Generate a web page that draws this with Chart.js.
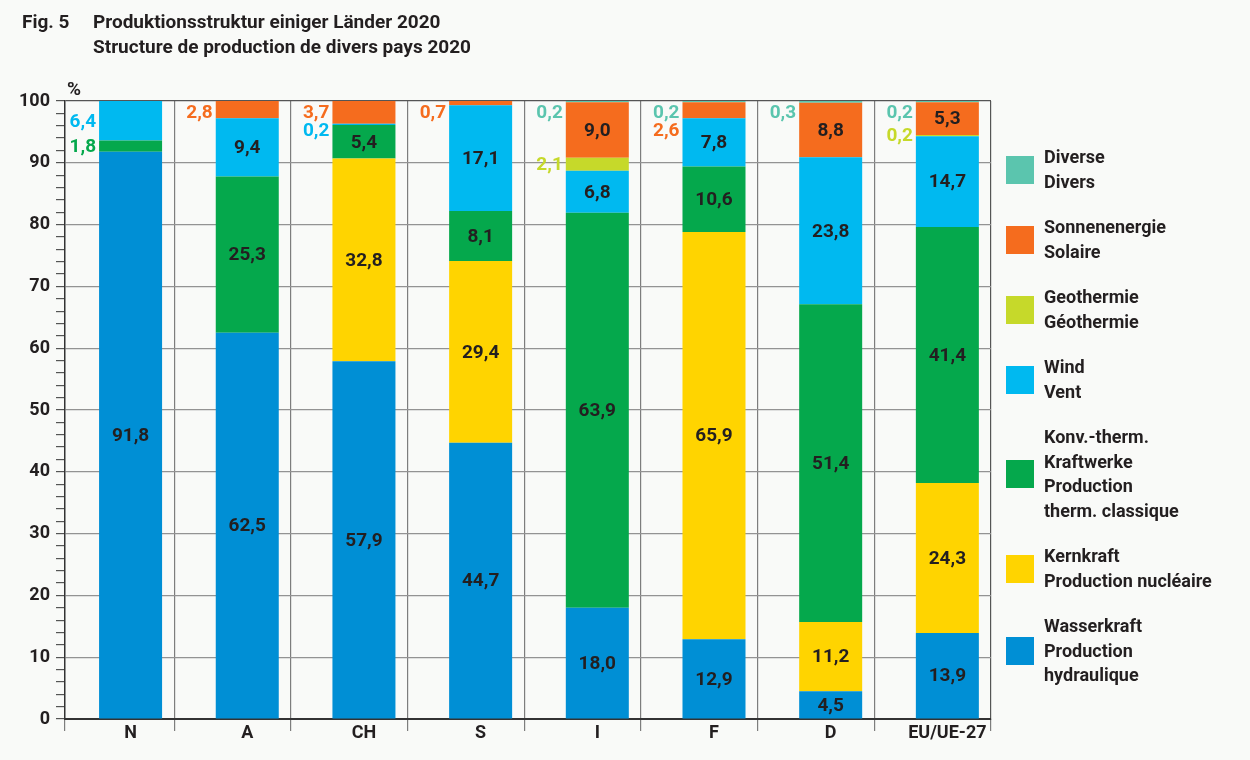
<!DOCTYPE html>
<html>
<head>
<meta charset="utf-8">
<script src="https://cdn.jsdelivr.net/npm/chart.js@4.4.1/dist/chart.umd.min.js"></script>
<style>
  body { margin: 0; background: #f9faf8; font-family: Roboto, sans-serif; color: #231f20; }
  #wrap { position: relative; width: 1250px; height: 760px; }
  #chartBox { position: absolute; left: 0; top: 0; width: 1250px; height: 760px; }
  #title { position: absolute; left: 22px; top: 9px; display: flex; font-weight: 700; font-size: 19px; line-height: 25px; }
  #title .fig { width: 71px; }
  #unit { position: absolute; left: 67px; top: 79px; font-weight: 700; font-size: 19px; line-height: 19px; }
  #legend { position: absolute; left: 1006px; top: 145px; }
  .item { display: flex; align-items: center; margin-bottom: 21px; }
  .swatch { width: 28px; height: 28px; margin-right: 10px; flex: none; }
  .txt { font-weight: 700; font-size: 18px; line-height: 24.5px; }
</style>
</head>
<body>
<div id="wrap">
  <div id="chartBox"><canvas id="chart"></canvas></div>
  <div id="title">
    <div class="fig">Fig. 5</div>
    <div>Produktionsstruktur einiger Länder 2020<br>Structure de production de divers pays 2020</div>
  </div>
  <div id="unit">%</div>
  <div id="legend"></div>
</div>
<script>
const categories = ['N', 'A', 'CH', 'S', 'I', 'F', 'D', 'EU/UE-27'];

// Anteile in %, von unten nach oben gestapelt
const wasserkraft = [91.8, 62.5, 57.9, 44.7, 18.0, 12.9, 4.5, 13.9];
const kernkraft   = [0, 0, 32.8, 29.4, 0, 65.9, 11.2, 24.3];
const konvTherm   = [1.8, 25.3, 5.4, 8.1, 63.9, 10.6, 51.4, 41.4];
const wind        = [6.4, 9.4, 0.2, 17.1, 6.8, 7.8, 23.8, 14.7];
const geothermie  = [0, 0, 0, 0, 2.1, 0, 0, 0.2];
const sonne       = [0, 2.8, 3.7, 0.7, 9.0, 2.6, 8.8, 5.3];
const diverse     = [0, 0, 0, 0, 0.2, 0.2, 0.3, 0.2];

const yTickLabels = [0, 10, 20, 30, 40, 50, 60, 70, 80, 90, 100];

const series = [
    { key: 'Wasser', label: ['Wasserkraft', 'Production', 'hydraulique'], data: wasserkraft, color: '#008fd5' },
    { key: 'Kern', label: ['Kernkraft', 'Production nucléaire'], data: kernkraft, color: '#ffd400' },
    { key: 'Konv', label: ['Konv.-therm.', 'Kraftwerke', 'Production', 'therm. classique'], data: konvTherm, color: '#05a84c' },
    { key: 'Wind', label: ['Wind', 'Vent'], data: wind, color: '#00b9f0' },
    { key: 'Geo', label: ['Geothermie', 'Géothermie'], data: geothermie, color: '#c6d92a' },
    { key: 'Sonne', label: ['Sonnenenergie', 'Solaire'], data: sonne, color: '#f56c1e' },
    { key: 'Diverse', label: ['Diverse', 'Divers'], data: diverse, color: '#5bc5ae' }
];

// labels that sit left of the bar even though the segment is big enough
const outsideLabels = ['N/Wind'];

// bars sit right of centre inside each column
const X_MIN = -0.562;
const GAP = 0.374;
const X_MAX = categories.length - 1 + GAP;
const gridLines = categories.map((c, i) => i + GAP);
const axisTicks = [X_MIN].concat(gridLines, categories.map((c, i) => i)).sort((a, b) => a - b);

const fmt = v => v.toFixed(1).replace('.', ',');

// legend (top series first)
const legendBox = document.getElementById('legend');
series.slice().reverse().forEach(s => {
    const item = document.createElement('div');
    item.className = 'item';
    item.innerHTML = `<div class="swatch" style="background:${s.color}"></div><div class="txt">${s.label.join('<br>')}</div>`;
    legendBox.appendChild(item);
});

const valueLabels = {
    id: 'valueLabels',
    afterDatasetsDraw(chart) {
        const ctx = chart.ctx;
        const top = chart.chartArea.top;
        ctx.save();
        ctx.font = 'bold 19px Roboto';
        ctx.textBaseline = 'middle';
        categories.forEach((cat, i) => {
            let lastY = -Infinity;
            for (let d = series.length - 1; d >= 0; d--) {
                const v = series[d].data[i];
                if (!v) continue;
                const bar = chart.getDatasetMeta(d).data[i];
                const mid = (bar.y + bar.base) / 2;
                const outside = v < 4 || outsideLabels.includes(cat + '/' + series[d].key);
                if (!outside) {
                    ctx.fillStyle = '#231f20';
                    ctx.textAlign = 'center';
                    ctx.fillText(fmt(v), bar.x, mid + 1);
                } else {
                    const y = Math.max(mid, top + 11, lastY + 18);
                    ctx.fillStyle = series[d].color;
                    ctx.textAlign = 'right';
                    ctx.fillText(fmt(v), bar.x - bar.width / 2 - 3, y + 1);
                    lastY = y;
                }
            }
        });
        ctx.restore();
    }
};

Chart.defaults.font.family = 'Roboto';
Chart.defaults.color = '#231f20';

const isCenter = v => Number.isInteger(v);

new Chart(document.getElementById('chart'), {
    type: 'bar',
    data: {
        datasets: series.map(s => ({
            label: s.label.join(' '),
            data: s.data.map((v, i) => ({ x: i, y: v })),
            backgroundColor: s.color,
            borderWidth: 0,
            xAxisID: 'x',
            barPercentage: 0.54,
            categoryPercentage: 1
        }))
    },
    options: {
        responsive: true,
        maintainAspectRatio: false,
        animation: false,
        layout: { padding: { top: 101, right: 259, bottom: 15, left: 0 } },
        plugins: { legend: { display: false }, tooltip: { enabled: false } },
        scales: {
            x: {
                type: 'linear',
                stacked: true,
                offset: false,
                min: X_MIN,
                max: X_MAX,
                weight: 0,
                afterBuildTicks: s => { s.ticks = gridLines.map(v => ({ value: v })); },
                border: { color: '#333', width: 2 },
                grid: {
                    offset: false,
                    drawTicks: false,
                    color: c => (c.tick && c.tick.value === X_MAX) ? '#555' : '#7d7d7d',
                    lineWidth: 1.2
                },
                ticks: { display: false }
            },
            xl: {
                type: 'linear',
                axis: 'x',
                position: 'bottom',
                offset: false,
                weight: 1,
                min: X_MIN,
                max: X_MAX,
                afterBuildTicks: s => { s.ticks = axisTicks.map(v => ({ value: v })); },
                afterFit: s => { s.height = 26; },
                grid: {
                    offset: false,
                    drawOnChartArea: false,
                    drawTicks: true,
                    tickLength: 12,
                    lineWidth: 1.2,
                    tickColor: c => isCenter(c.tick.value) ? 'rgba(0,0,0,0)' : '#7d7d7d'
                },
                border: { display: false },
                ticks: {
                    autoSkip: false,
                    maxRotation: 0,
                    padding: -8,
                    font: { size: 18, weight: 'bold' },
                    callback: v => isCenter(v) ? categories[v] : ''
                }
            },
            y: {
                stacked: true,
                min: 0,
                max: 100,
                afterFit: s => { s.width = 65; },
                border: { color: '#333', width: 1.5 },
                grid: {
                    color: c => c.tick.value === 100 ? '#555' : (c.tick.value % 10 === 0 ? '#939393' : 'rgba(0,0,0,0)'),
                    tickColor: '#555',
                    tickLength: 9,
                    lineWidth: 1.2
                },
                ticks: {
                    stepSize: 2,
                    autoSkip: false,
                    padding: 6,
                    font: { size: 18, weight: 'bold' },
                    callback: v => yTickLabels.includes(v) ? v : ''
                }
            }
        }
    },
    plugins: [valueLabels]
});
</script>
</body>
</html>
